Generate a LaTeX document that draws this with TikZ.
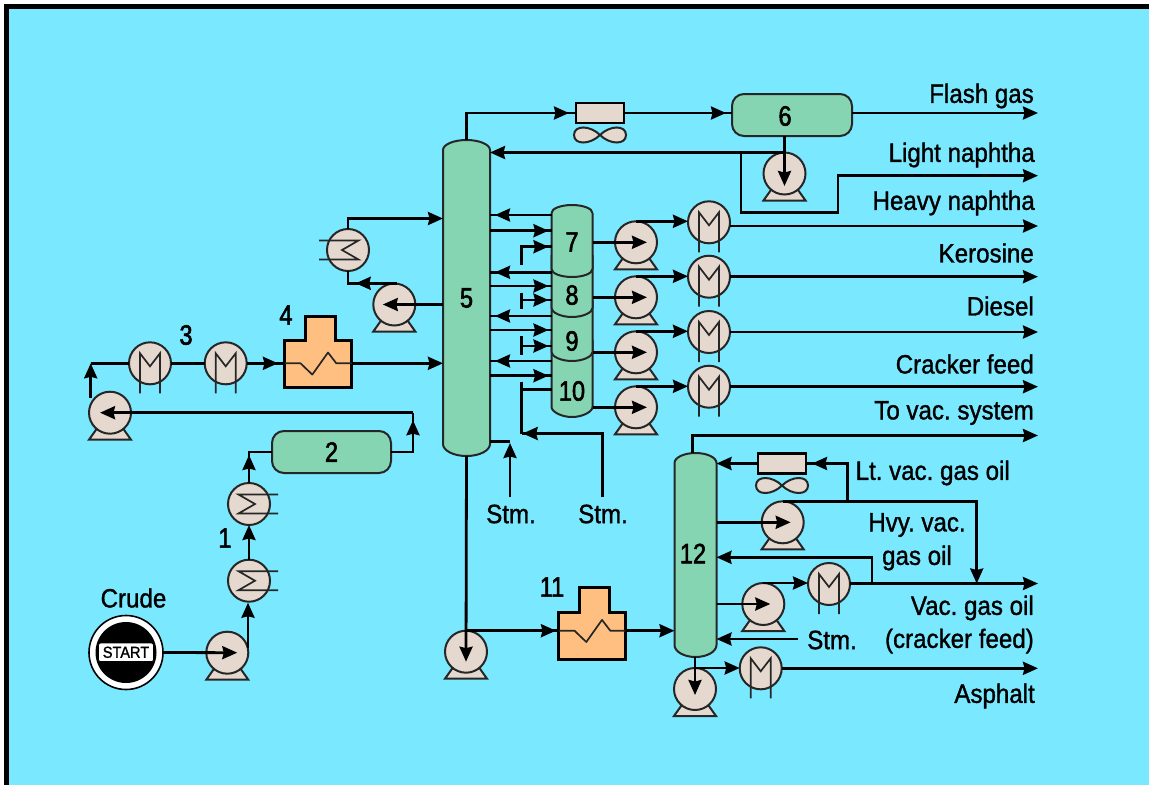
\documentclass[tikz,border=0pt]{standalone}
\usepackage{fontspec}
\setmainfont[FakeStretch=.91,FakeBold=1.2]{Liberation Sans}
\newfontfamily\numfont[FakeStretch=.84,FakeBold=2]{Liberation Sans}
\usetikzlibrary{arrows.meta,decorations.markings}
\definecolor{bgcol}{RGB}{122,232,255}
\definecolor{vesselcol}{RGB}{133,213,179}
\definecolor{bodycol}{RGB}{229,217,207}
\definecolor{heatcol}{RGB}{255,191,128}
\tikzset{
  pipe/.style={line width=2.8pt},
  flowtip/.style={postaction={decorate,decoration={markings,mark=at position #1 with {\arrow{>}}}}},
  vessel/.style={fill=vesselcol,draw=black!85,line width=2pt},
  vessellabel/.style={inner sep=0pt,outer sep=0pt,font=\fontsize{28}{30}\numfont},
  bodyline/.style={fill=bodycol,draw=black!85,line width=2pt},
  thinline/.style={draw=black!85,line width=1.7pt},
  lbl/.style={inner sep=0pt,anchor=east},
  clbl/.style={inner sep=0pt},
  numlbl/.style={inner sep=0pt,font=\fontsize{28}{30}\numfont}
}
\newcommand{\Tower}[6]{%
  \pgfmathsetmacro{\towc}{(#2+#3)/2}\pgfmathsetmacro{\towk}{.55*(#3-#2)/2}
  \filldraw[vessel] (#2,#4+10) .. controls (#2,#4+4.5) and (\towc-\towk,#4) .. (\towc,#4) .. controls (\towc+\towk,#4) and (#3,#4+4.5) .. (#3,#4+10)
    -- (#3,#5-12) .. controls (#3,#5-5.4) and (\towc+\towk,#5) .. (\towc,#5) .. controls (\towc-\towk,#5) and (#2,#5-5.4) .. (#2,#5-12) -- cycle;
  \node[vessellabel,minimum width=#3-#2,minimum height=#5-#4] (#1) at (\towc,{(#4+#5)/2}) {#6};}
\newcommand{\Stage}[6]{%
  \filldraw[vessel] (551.5,#2) -- (551.5,#3) .. controls (551.5,#3+4.5) and (561,#4) .. (572,#4) .. controls (583,#4) and (592.5,#3+4.5) .. (592.5,#3) -- (592.5,#2);
  \node[vessellabel,minimum width=41] (#1) at (572,#5) {#6};}
\newcommand{\Pump}[2]{%
  \begin{scope}[shift={(#2)}]
  \filldraw[bodyline] (-21,27) -- (21,27) -- (12.5,15) -- (-12.5,15) -- cycle;
  \node[circle,bodyline,minimum size=42,inner sep=0pt,outer sep=0pt] (#1) at (0,0) {};
  \end{scope}}
\newcommand{\Cooler}[2]{%
  \begin{scope}[shift={(#2)}]
  \node[circle,bodyline,minimum size=42,inner sep=0pt,outer sep=0pt] (#1) at (0,0) {};
  \draw[thinline] (-10,30) -- (-10,-10) -- (0,3) -- (10,-10) -- (10,30);
  \end{scope}}
\newcommand{\Cond}[3]{%
  \begin{scope}[shift={(#2)},xscale=#3]
  \node[circle,bodyline,minimum size=42,inner sep=0pt,outer sep=0pt] (#1) at (0,0) {};
  \draw[thinline] (29,-9.5) -- (-10.5,-9.5) -- (6,0) -- (-10.5,9.5) -- (29,9.5);
  \end{scope}}
\newcommand{\Fan}[2]{%
  \begin{scope}[shift={(#2)}]
  \node[rectangle,fill=bodycol,draw=black,line width=2.8pt,minimum width=48,minimum height=20,inner sep=0pt,outer sep=0pt] (#1) at (0,0) {};
  \filldraw[bodyline] (0,22) .. controls (-10,12) and (-26,12) .. (-26,22) .. controls (-26,32) and (-10,32) .. (0,22)
    .. controls (10,12) and (26,12) .. (26,22) .. controls (26,32) and (10,32) .. (0,22) -- cycle;
  \end{scope}}
\newcommand{\Heater}[3]{%
  \begin{scope}[shift={(#2)}]
  \filldraw[fill=heatcol,draw=black,line width=3pt] (-13,-23.3) -- (-13,-48) -- (17,-48) -- (17,-23.3);
  \node[rectangle,fill=heatcol,draw=black,line width=3pt,minimum width=66.7,minimum height=46.6,inner sep=0pt,outer sep=0pt] (#1) at (0,0) {};
  \fill[heatcol] (-11.5,-25) rectangle (15.5,-22);
  \coordinate (#1in) at (-33.4,#3);
  \coordinate (#1out) at (33.4,#3);
  \draw[thinline,line join=round] (#1in) -- (-17.8,#3) -- (-6,#3+11.3) -- (9.7,#3-10.8) -- (18,#3) -- (#1out);
  \end{scope}}
\begin{document}
\frenchspacing
\begin{tikzpicture}[x=1pt,y=-1pt,>={Stealth[length=15pt,width=13pt,inset=1.5pt]},font=\fontsize{26.5}{28}\selectfont]
\useasboundingbox (0,0) rectangle (1149,785);
\fill[white] (0,0) rectangle (1149,785);
\fill[black] (3.5,4) rectangle (1149,785);
\fill[bgcol] (9,9) rectangle (1149,785);
\Tower{col5}{443}{490}{140}{456}{5}
\Tower{col12}{674.5}{716.5}{453}{657}{\raisebox{3pt}{12\kern5pt}}
\node[vessel,inner sep=0pt,outer sep=0pt,rounded corners=12,minimum width=120,minimum height=42] (drum6) at (792,115) {};
\node[numlbl] (lbl6) at (785,116) {6};
\node[vessel,vessellabel,rounded corners=12,minimum width=119,minimum height=42] (drum2) at (331.5,452) {2};
\Stage{sec10}{340}{407}{417}{391}{10}
\Stage{sec9}{300}{352}{361}{341}{9}
\Stage{sec8}{255}{308}{317}{295}{8}
\Stage{sec7}{213}{269}{277}{242}{7}
\filldraw[vessel] (551.5,213) .. controls (551.5,208.5) and (561,205) .. (572,205) .. controls (583,205) and (592.5,208.5) .. (592.5,213);
\Pump{pump1}{227.3,652.7}
\Pump{pump2}{110,412.7}
\Pump{pump3}{394.3,304.5}
\Pump{pump6}{784.5,173.5}
\Pump{pump7}{636,242.3}
\Pump{pump8}{636,297.3}
\Pump{pump9}{636,352.3}
\Pump{pump10}{636,407.3}
\Pump{pump11}{466,651.7}
\Pump{pump12a}{782.7,522.3}
\Pump{pump12b}{763.3,604}
\Pump{pump12c}{695,689}
\Cooler{coolA}{150,363.3}
\Cooler{coolB}{225.7,363.3}
\Cooler{cool7}{709,222.3}
\Cooler{cool8}{709,276.7}
\Cooler{cool9}{709,332}
\Cooler{cool10}{709,386.7}
\Cooler{cool12a}{829,584}
\Cooler{cool12b}{760.7,668.3}
\Cond{condA}{249,580.7}{1}
\Cond{condB}{249,504}{1}
\Cond{condC}{348,250}{-1}
\Fan{fan5}{600,113}
\Fan{fan12}{782,463.5}
\Heater{heat4}{318.3,364}{-.7}
\Heater{heat11}{592.3,635.8}{-5.1}
\node[circle,fill=white,draw=black,line width=1.6pt,minimum size=74,inner sep=0pt,outer sep=0pt] (start) at (126,652.5) {};
\fill[black] (start.center) circle[radius=30.5];
\node[rectangle,rounded corners=2,fill=white,draw=black,line width=.8pt,minimum width=55,minimum height=18.5,inner sep=0pt,font=\fontsize{16}{16}\selectfont] (startlbl) at (126,652.3) {START};
\coordinate (outflash) at (1038,113);
\coordinate (outlight) at (1038,175.7);
\coordinate (outheavy) at (1038,226);
\coordinate (outkero) at (1038,276.7);
\coordinate (outdiesel) at (1038,332);
\coordinate (outcrack) at (1038,386.7);
\coordinate (outvac) at (1038,435.5);
\coordinate (outvgo) at (1038,583.5);
\coordinate (outasph) at (1038,668.3);
\coordinate (stmA) at (510,497);
\coordinate (stmB) at (602.5,497);
\coordinate (stmC) at (797.5,639);
\draw[pipe,->] (start.east) -- ([xshift=10]pump1.center);
\draw[pipe,->] (248,648) -- (248,602.7);
\draw[pipe,->] (condA.north) -- (condB.south);
\draw[pipe,flowtip=28pt] (condB.north) |- (drum2.west);
\draw[pipe,flowtip=-7.5pt] (drum2.east) -| (413,412.7);
\draw[pipe,->] (413,412.7) -- ([xshift=-10]pump2.center);
\draw[pipe,->] (90.7,398) -- (90.7,363.3);
\draw[pipe] (90.7,363.3) -- (coolA.west);
\draw[pipe] (coolA.east) -- (coolB.west);
\draw[pipe,flowtip=-7pt] (coolB.east) -- (heat4.west |- heat4in);
\draw[pipe,->] (heat4out) -- (col5.west |- heat4out);
\draw[pipe,->] (col5.west |- pump3) -- ([xshift=-11.5]pump3.center);
\draw[pipe,flowtip=-20pt] (397,283.3) -| (condC.south);
\draw[pipe,->] (condC.north) |- (col5.west |- 0,218.5);
\draw[pipe,flowtip=-7pt] (col5.north) |- (fan5.west);
\draw[pipe,flowtip=-6pt] (fan5.east) -- (drum6.west |- fan5);
\draw[pipe,->] (drum6.east |- fan5) -- (outflash);
\draw[pipe,->] (drum6.south -| pump6) -- ([yshift=-12.5]pump6.center);
\draw[pipe,->] (pump6.north) -- (col5.east |- pump6.north);
\draw[pipe,->] (741,152) |- (838,212.5) |- (outlight);
\draw[pipe,flowtip=-5pt] (sec7.west |- 0,215) -- (col5.east |- 0,215);
\draw[pipe,flowtip=-3pt] (col5.east |- 0,230.7) -- (sec7.west |- 0,230.7);
\draw[pipe,flowtip=-3pt] (521.7,265) |- (sec7.west |- 0,246.7);
\draw[pipe,flowtip=-5pt] (sec8.west |- 0,272.3) -- (col5.east |- 0,272.3);
\draw[pipe,flowtip=-3pt] (col5.east |- 0,286) -- (sec8.west |- 0,286);
\draw[pipe] (521.7,292.7) -- (521.7,309);
\draw[pipe,flowtip=-3pt] (521.7,300) -- (sec8.west |- 0,300);
\draw[pipe,flowtip=-5pt] (sec9.west |- 0,316) -- (col5.east |- 0,316);
\draw[pipe,flowtip=-3pt] (col5.east |- 0,330) -- (sec9.west |- 0,330);
\draw[pipe] (521.7,336) -- (521.7,355);
\draw[pipe,flowtip=-3pt] (521.7,346) -- (sec9.west |- 0,346);
\draw[pipe,flowtip=-5pt] (sec10.west |- 0,361) -- (col5.east |- 0,361);
\draw[pipe,flowtip=-3pt] (col5.east |- 0,375.7) -- (sec10.west |- 0,375.7);
\draw[pipe] (sec10.west |- 0,389.3) -- (521.7,389.3);
\draw[pipe] (521.7,381.7) -- (521.7,433.5);
\draw[pipe,flowtip=-1pt] (stmB) |- (521.7,433.5);
\draw[pipe,->] (stmA) -- (510,443);
\draw[pipe] (510,441.7) -- (col5.east |- 0,441.7);
\draw[pipe,->] (sec7.east |- pump7) -- ([xshift=11]pump7.center);
\draw[pipe,->] (sec8.east |- pump8) -- ([xshift=11]pump8.center);
\draw[pipe,->] (sec9.east |- pump9) -- ([xshift=11]pump9.center);
\draw[pipe,->] (sec10.east |- pump10) -- ([xshift=11]pump10.center);
\draw[pipe,->] (pump7.north) -- (pump7.north -| cool7.west);
\draw[pipe,->] (pump8.north) -- (pump8.north -| cool8.west);
\draw[pipe,->] (pump9.north) -- (pump9.north -| cool9.west);
\draw[pipe,->] (pump10.north) -- (pump10.north -| cool10.west);
\draw[pipe,->] (cool7.east |- outheavy) -- (outheavy);
\draw[pipe,->] (cool8.east) -- (outkero);
\draw[pipe,->] (cool9.east) -- (outdiesel);
\draw[pipe,->] (cool10.east) -- (outcrack);
\draw[pipe,->] (col5.south) -- ([yshift=-10]pump11.center);
\draw[pipe,flowtip=-3pt] (pump11.north) -- (heat11.west |- pump11.north);
\draw[pipe,->] (heat11out) -- (col12.west |- heat11out);
\draw[pipe,->] (692.7,453) |- (outvac);
\draw[pipe,flowtip=-6pt] (847.3,501.3) |- (fan12.east);
\draw[pipe,->] (fan12.west) -- (col12.east |- fan12);
\draw[pipe,->] (pump12a.north) -| (976.7,583.5);
\draw[pipe,->] (col12.east |- pump12a) -- ([xshift=8]pump12a.center);
\draw[pipe,->] (872,583.5) |- (col12.east |- 0,557.3);
\draw[pipe,->] (col12.east |- pump12b) -- ([xshift=7]pump12b.center);
\draw[pipe,->] (pump12b.north) -- (pump12b.north -| cool12a.west);
\draw[pipe,->] (cool12a.east |- outvgo) -- (outvgo);
\draw[pipe,->] (stmC) -- (col12.east |- stmC);
\draw[pipe,->] (col12.south -| pump12c) -- ([yshift=-6]pump12c.center);
\draw[pipe,->] (pump12c.north) -- (pump12c.north -| cool12b.west);
\draw[pipe,->] (cool12b.east) -- (outasph);
\node[numlbl] (lbl1) at (225,538) {1};
\node[numlbl] (lbl3) at (186,335) {3};
\node[numlbl] (lbl4) at (286,315) {4};
\node[numlbl] (lbl11) at (552,587) {11};
\node[clbl] (lblcrude) at (133.5,598) {Crude};
\node[lbl] (lblflash) at (1034,96) {Flash gas};
\node[lbl] (lbllight) at (1035,155) {Light naphtha};
\node[lbl] (lblheavy) at (1035,203) {Heavy naphtha};
\node[lbl] (lblkero) at (1034,253) {Kerosine};
\node[lbl] (lbldiesel) at (1034,306) {Diesel};
\node[lbl] (lblcrack) at (1034,364) {Cracker feed};
\node[lbl] (lblvac) at (1034,413) {To vac. system};
\node[lbl] (lbllvgo) at (1010,473) {Lt. vac. gas oil};
\node[clbl] (lblhvy) at (917,525) {Hvy. vac.};
\node[clbl] (lblhvyb) at (917,558) {gas oil};
\node[lbl] (lblvgo) at (1034,608) {Vac. gas oil};
\node[lbl] (lblvgob) at (1034,641) {(cracker feed)};
\node[lbl] (lblasph) at (1035,696) {Asphalt};
\node[clbl] (lblstmA) at (511,514) {Stm.};
\node[clbl] (lblstmB) at (603,514) {Stm.};
\node[clbl] (lblstmC) at (832,640) {Stm.};
\end{tikzpicture}
\end{document}
